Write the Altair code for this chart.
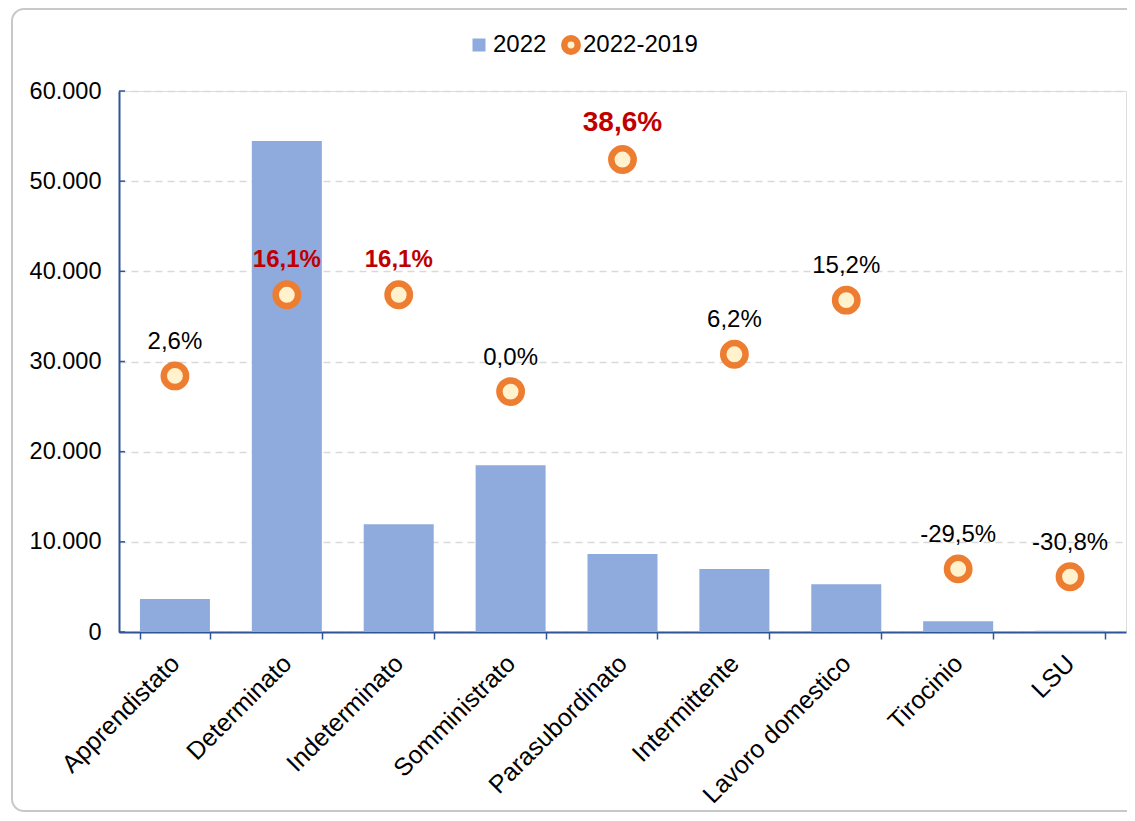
import altair as alt
import pandas as pd

categories = ["Apprendistato", "Determinato", "Indeterminato", "Somministrato",
              "Parasubordinato", "Intermittente", "Lavoro domestico", "Tirocinio", "LSU"]
values_2022 = [3650, 54450, 11950, 18500, 8650, 7000, 5300, 1200, 150]
change_2022_2019 = [2.6, 16.1, 16.1, 0.0, 38.6, 6.2, 15.2, -29.5, -30.8]
y_ticks = [0, 10000, 20000, 30000, 40000, 50000, 60000]

BLUE = "#8faadc"
ORANGE = "#ed7d31"
CREAM = "#fff2cc"
RED = "#c00000"
AXIS = "#2f5597"
FONT = "Liberation Sans"

df = pd.DataFrame({"cat": categories, "v": values_2022, "pct": change_2022_2019})
df["s1"] = "2022"
df["s2"] = "2022-2019"
df_ticks = pd.DataFrame({"t": y_ticks})

W, H = 1007, 541

xenc = alt.X("cat:N", sort=categories,
             scale=alt.Scale(paddingInner=0.375, paddingOuter=0.1875),
             axis=alt.Axis(title=None, labelAngle=-45, labelAlign="right", labelBaseline="middle",
                           labelFontSize=25, labelFont=FONT, labelColor="#000000",
                           labelPadding=20, labelLimit=400, tickBand="extent", tickSize=7,
                           tickWidth=1.5, tickColor=AXIS, domainColor=AXIS, domainWidth=2))

yscale = alt.Scale(domain=[0, 60000], nice=False)

frame = alt.Chart(pd.DataFrame({"f": [0]})).mark_rect(
    fill="white", fillOpacity=0, stroke="#c8c8c8", strokeWidth=2, cornerRadius=12
).encode(x=alt.value(-107), x2=alt.value(1030), y=alt.value(-82), y2=alt.value(720))

bars = alt.Chart(df).mark_bar(size=70).encode(
    x=xenc,
    y=alt.Y("v:Q", scale=yscale,
            axis=alt.Axis(title=None, values=y_ticks, labelFontSize=23.5, labelFont=FONT,
                          labelColor="#000000", labelPadding=18, ticks=False,
                          domainColor=AXIS, domainWidth=2,
                          grid=True, gridColor="#d9d9d9", gridDash=[7, 5], gridWidth=1.5,
                          labelExpr="replace(format(datum.value, ',d'), ',', '.')")),
    color=alt.Color("s1:N", scale=alt.Scale(domain=["2022"], range=[BLUE]),
                    legend=alt.Legend(title=None, orient="none", legendX=348, legendY=-58,
                                      symbolType="square", symbolSize=169, labelFontSize=24,
                                      labelFont=FONT, labelColor="#000000", labelOffset=2,
                                      padding=0, symbolStrokeWidth=0)),
)

ticks = alt.Chart(df_ticks).mark_rule(color=AXIS, strokeWidth=1.5).encode(
    y=alt.Y("t:Q", scale=yscale), x=alt.value(0), x2=alt.value(6)
)

left = alt.layer(bars, ticks)

pscale = alt.Scale(domain=[-40, 50], nice=False)

points = alt.Chart(df).mark_point(filled=False, fill=CREAM, fillOpacity=1, strokeWidth=6.5,
                                  size=500, opacity=1, shape="circle").encode(
    x=alt.X("cat:N", sort=categories),
    y=alt.Y("pct:Q", scale=pscale, axis=None),
    stroke=alt.Stroke("s2:N", scale=alt.Scale(domain=["2022-2019"], range=[ORANGE]),
                      legend=alt.Legend(title=None, orient="none", legendX=440, legendY=-58,
                                        symbolType="circle", symbolSize=180,
                                        symbolFillColor=CREAM, symbolStrokeWidth=6.5,
                                        labelFontSize=24, labelFont=FONT,
                                        labelColor="#000000", labelOffset=0, padding=0)),
)

base_txt = alt.Chart(df).transform_calculate(
    lab="replace(replace(format(datum.pct, '.1f'), '.', ','), '\u2212', '-') + '%'"
)

txt_normal = base_txt.transform_filter("datum.pct < 16").mark_text(
    font=FONT, fontSize=24, color="#000000", baseline="alphabetic", dy=-27
).encode(x=alt.X("cat:N", sort=categories), y=alt.Y("pct:Q", scale=pscale, axis=None),
         text="lab:N")

txt_bold = base_txt.transform_filter("datum.pct >= 16 && datum.pct < 30").mark_text(
    font=FONT, fontSize=24, fontWeight="bold", color=RED, baseline="alphabetic", dy=-28
).encode(x=alt.X("cat:N", sort=categories), y=alt.Y("pct:Q", scale=pscale, axis=None),
         text="lab:N")

txt_big = base_txt.transform_filter("datum.pct >= 30").mark_text(
    font=FONT, fontSize=28, fontWeight="bold", color=RED, baseline="alphabetic", dy=-29
).encode(x=alt.X("cat:N", sort=categories), y=alt.Y("pct:Q", scale=pscale, axis=None),
         text="lab:N")

right = alt.layer(points, txt_normal, txt_bold, txt_big)

chart = alt.layer(frame, left, right).resolve_scale(y="independent").properties(
    width=W, height=H,
    autosize=alt.AutoSizeParams(type="none"),
    padding={"left": 111, "top": 83, "right": 1, "bottom": 181},
).configure_view(stroke=None).configure(font=FONT)

chart.save("out.html", embed_options={"renderer": "svg", "actions": False})
